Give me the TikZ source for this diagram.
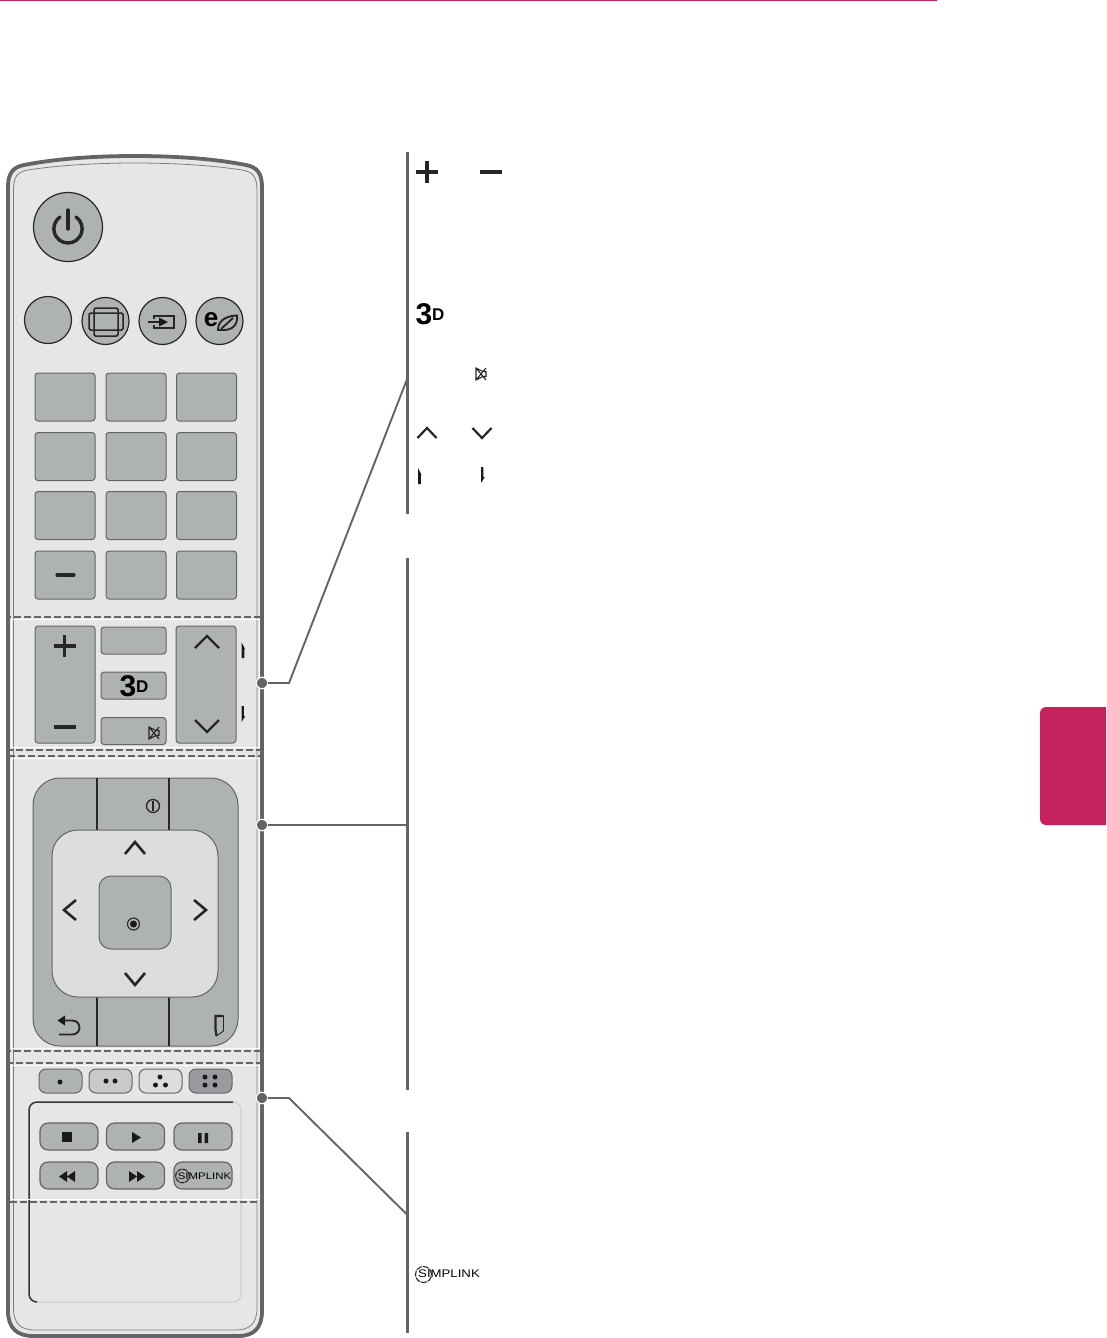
\documentclass[tikz,border=0pt]{standalone}
\usepackage{fontspec}
\setmainfont{Liberation Sans}
\definecolor{lgred}{HTML}{C5215C}
\definecolor{bodygray}{HTML}{E6E6E7}
\definecolor{edgegray}{HTML}{636466}
\definecolor{keygray}{HTML}{AFB2B3}
\definecolor{padgray}{HTML}{DCDDDE}
\definecolor{lightline}{HTML}{D1D3D4}
\definecolor{greenkey}{HTML}{C8C9CB}
\definecolor{bluekey}{HTML}{9A9B9E}

\begin{document}
\begin{tikzpicture} [x=1pt,y=-1pt]
\tikzstyle{every node}=[inner sep=0pt,outer sep=0pt]
\tikzstyle{keybase}=[draw=edgegray,fill=keygray,line width=1pt]
\tikzstyle{roundkey}=[keybase,circle,draw=black!85,line width=1.2pt,minimum size=47pt]
\tikzstyle{numkey}=[keybase,rectangle,rounded corners=3pt,minimum width=60pt,minimum height=48pt]
\tikzstyle{midkey}=[keybase,rectangle,rounded corners=3pt,minimum width=65pt,minimum height=27pt]
\tikzstyle{tallkey}=[keybase,rectangle,rounded corners=3pt,minimum width=60pt,minimum height=117pt]
\tikzstyle{colorkey}=[keybase,rectangle,rounded corners=7pt,minimum width=43pt,minimum height=24pt]
\tikzstyle{mediakey}=[keybase,line width=1.2pt,rectangle,rounded corners=8pt,minimum width=58pt,minimum height=27pt]
\tikzstyle{icon}=[black!85,line width=2.2pt]
\tikzstyle{crossbar}=[black!85,line width=3.1pt]
\tikzstyle{thinicon}=[black!85,line width=1.1pt]
\tikzstyle{leader}=[edgegray,line width=1.9pt]
\tikzstyle{pinpoint}=[circle,fill=edgegray,draw=white,line width=1.2pt,minimum size=11.5pt]

\useasboundingbox (0,0) rectangle (1106,1338);

\fill[lgred] (0,0) rectangle (937,1.4);
\fill[lgred] (1106,707) -- (1046,707) arc[start angle=90,end angle=180,radius=6pt]
    -- (1040,819) arc[start angle=180,end angle=270,radius=6pt] -- (1106,825) -- cycle;

\draw[edgegray,line width=3.8pt,fill=bodygray] (8,187) .. controls (8,172) and (14,167) .. (24,165)
    .. controls (60,158) and (100,156) .. (135,156) .. controls (170,156) and (210,158) .. (246,165)
    .. controls (256,167) and (262,172) .. (262,187) -- (262,1311)
    .. controls (262,1328) and (254,1336) .. (238,1336) -- (33,1336)
    .. controls (17,1336) and (8,1328) .. (8,1311) -- cycle;
\draw[lightline!60!black,line width=0.8pt] (13.5,190) .. controls (13.5,177) and (17,172) .. (28,170)
    .. controls (60,165) and (100,163) .. (135,163) .. controls (170,163) and (210,165) .. (242,170)
    .. controls (253,172) and (257,177) .. (257,190) -- (257,1308)
    .. controls (257,1323) and (250,1330) .. (236,1330) -- (35,1330)
    .. controls (20,1330) and (13.5,1323) .. (13.5,1308) -- cycle;

\node[roundkey,minimum size=69pt] (power) at (68,227) {};
\draw[icon,line width=3.4pt,line cap=round] (68,210) -- (68,229);
\draw[icon,line width=3.4pt,line cap=round] (60,217) .. controls (48,226) and (55,243) .. (68,243)
    .. controls (81,243) and (88,226) .. (76,217);

\node[roundkey] (round1) at (48,320) {};
\node[roundkey] (round2) at (105.5,321) {};
\node[roundkey] (round3) at (162.5,321) {};
\node[roundkey] (round4) at (219.5,321) {};
\draw[thinicon,line width=1.5pt,rounded corners=1.5pt] (89,313) rectangle (123,330) (94,308) rectangle (118,336);
\draw[thinicon,line width=1.4pt] (154,319) -- (154,316) -- (174,316) -- (174,328) -- (154,328) -- (154,325)
    (148,322) -- (160,322);
\fill[black!90] (159,317.5) -- (168,322) -- (159,326.5) -- cycle;
\node[font=\bfseries\fontsize{26}{26}\selectfont] (ecoe) at (211,320) {e};
\draw[icon,line width=1.9pt] (218,330) .. controls (218,322) and (224,316) .. (237,315.5)
    .. controls (238,324) and (233,330) .. (224,330) -- cycle (221,329) -- (233,318);

\foreach \r/\Y in {1/397,2/456.5,3/515.5,4/575}{
    \foreach \c/\X in {1/65,2/136,3/206.5}{
        \node[numkey] (num\r_\c) at (\X,\Y) {};
    }
}
\draw[crossbar,line cap=round] (57,575) -- (74,575);

\node[tallkey] (volkey) at (65,684.5) {};
\node[tallkey] (chkey) at (206,684.5) {};
\node[midkey] (midkey1) at (133.5,640.5) {};
\node[midkey] (midkey2) at (133.5,685.5) {};
\node[midkey] (midkey3) at (133.5,731) {};

\newcommand{\threed}{\bfseries\fontsize{30}{30}\selectfont 3\raisebox{4pt}{\fontsize{17}{17}\selectfont D}}
\node (threeda) at (134,686) {\threed};
\node (threedb) at (430,314) {\threed};

\foreach \Point in {(64.5,646),(427,172)}{
    \draw[crossbar] \Point +(-11,0) -- +(11,0) \Point +(0,-11) -- +(0,11);
}
\foreach \Point in {(64.5,727),(491,172)}{
    \draw[crossbar] \Point +(-11,0) -- +(11,0);
}
\foreach \Point/\Wd/\Ht/\Rot in {(207,642)/12/6/0,(207,726)/12/6/180,(427,433)/9.5/5/0,(482,433)/9.5/5/180}{
    \draw[icon,shift={\Point},rotate=\Rot] (-\Wd,\Ht) -- (0,-\Ht) -- (\Wd,\Ht);
}
\foreach \Point in {(241.5,642),(418,468)}{
    \fill[black!90,shift={\Point}] (0,0) -- (3.5,7) -- (2.8,7) -- (2.8,16) -- (0,16) -- cycle;
}
\foreach \Point in {(241.5,706),(481,467)}{
    \fill[black!90,shift={\Point}] (0,0) -- (2.4,0) -- (2.4,10) -- (3.8,10) -- (0,16) -- cycle;
}
\foreach \Point in {(154,733),(481,374)}{
    \draw[thinicon,shift={\Point}] (5,-2.5) -- (2,-2.5) -- (-5,-6) -- (-5,6) -- (2,2.5) -- (5,2.5) -- cycle
        (-5,-6) -- (5,6) (-5,6) -- (5,-6);
}

\node[keybase,rectangle,rounded corners=27pt,minimum width=205pt,minimum height=268pt] (navkey) at (135.5,912) {};
\coordinate (split1a) at (97,778); \coordinate (split1b) at (97,830);
\coordinate (split2a) at (169,778); \coordinate (split2b) at (169,830);
\coordinate (split3a) at (97,997); \coordinate (split3b) at (97,1046);
\coordinate (split4a) at (169,997); \coordinate (split4b) at (169,1046);
\draw[black!85,line width=1.1pt] (split1a) -- (split1b) (split2a) -- (split2b)
    (split3a) -- (split3b) (split4a) -- (split4b);
\node[keybase,fill=padgray,rectangle,rounded corners=26pt,minimum width=166pt,minimum height=167pt] (navpad) at (135,913.5) {};
\node[keybase,rectangle,rounded corners=12pt,minimum width=72pt,minimum height=73pt] (okkey) at (135,912.5) {};
\draw[icon,line width=2.6pt] (125,854) -- (135,842) -- (145,854) (125,973) -- (135,985) -- (145,973)
    (76,900) -- (64,910) -- (76,920) (194,900) -- (206,910) -- (194,920);
\draw[thinicon] (133.5,924) circle[radius=6pt];
\fill[black!90] (133.5,924) circle[radius=3.5pt];
\draw[thinicon,line width=1.3pt] (153,806) circle[radius=6.5pt];
\draw[icon,line width=2.6pt] (153,801) -- (153,811);
\fill[black!90] (57.5,1020.5) -- (65,1015.5) -- (65,1025.5) -- cycle;
\draw[icon,line width=1.9pt] (64,1020.5) -- (72,1020.5) .. controls (82,1020.5) and (82,1034.5) .. (72,1034.5) -- (59,1034.5);
\draw[icon] (223.5,1016) -- (215.5,1016) -- (215.5,1029) -- (216.5,1036);
\draw[thinicon,line width=0.9pt] (223.5,1016) -- (223.5,1031) -- (216.5,1036);

\foreach \Name/\X/\Shade in {colorred/60.5/keygray,colorgreen/110.5/greenkey,coloryellow/160.5/padgray,colorblue/210.5/bluekey}{
    \node[colorkey,fill=\Shade] (\Name) at (\X,1081) {};
}
\foreach \Point in {(60,1082),(106,1081),(115,1081),(160,1077),(155.5,1085),(165.5,1085),(205,1077),(215,1077),(205,1085),(215,1085)}{
    \fill[black!90] \Point circle[radius=2.5pt];
}

\draw[lightline,line width=1.5pt] (233,1102) arc[start angle=90,end angle=0,radius=8pt]
    -- (241,1294) arc[start angle=0,end angle=-90,radius=8pt] -- (37,1302);
\draw[black!80,line width=1.5pt] (37,1302) arc[start angle=270,end angle=180,radius=8pt]
    -- (29,1110) arc[start angle=180,end angle=90,radius=8pt] -- (233,1102);

\foreach \Name/\X/\Y in {stopkey/69/1136.5,playkey/135.5/1136.5,pausekey/203/1136.5,rewkey/69/1175.5,ffkey/135.5/1175.5,linkkey/203/1175.5}{
    \node[mediakey] (\Name) at (\X,\Y) {};
}
\fill[black!90] (62,1132) rectangle (72,1142);
\fill[black!90] (132,1132) -- (141,1137.5) -- (132,1143) -- cycle;
\fill[black!90] (198,1133) rectangle (201.5,1143) (204.5,1133) rectangle (208,1143);
\fill[black!90] (67,1171) -- (59,1176.5) -- (67,1182) -- cycle (75,1171) -- (67,1176.5) -- (75,1182) -- cycle;
\fill[black!90] (129,1171) -- (137,1176.5) -- (129,1182) -- cycle (137,1171) -- (145,1176.5) -- (137,1182) -- cycle;

\node[font=\fontsize{9.5}{10}\selectfont,xscale=1.2] (simplinka) at (204.5,1176) {SIMPLINK};
\draw[thinicon,dash pattern=on 5pt off 0.8pt] (182.5,1176) circle[radius=6.8pt];
\node[font=\fontsize{11}{12}\selectfont,xscale=1.2] (simplinkb) at (449,1274) {SIMPLINK};
\draw[thinicon,dash pattern=on 6pt off 1pt] (423.5,1274.5) circle[radius=8pt];

\foreach \Top/\Bot in {617/750,756/1051,1063/1202}{
    \draw[white,line width=1.5pt] (11.5,\Top+2.5) rectangle (259.5,\Bot-2.5);
    \draw[edgegray,line width=2.8pt,dash pattern=on 7pt off 3pt] (9,\Top) rectangle (262,\Bot);
}

\path (262,683) node[pinpoint] (dot1){};
\path (262,825) node[pinpoint] (dot2){};
\path (262,1098) node[pinpoint] (dot3){};

\path (289,683) coordinate (bend1);
\path (407.5,378) coordinate (end1);
\path (407.5,825) coordinate (end2);
\path (289,1098) coordinate (bend3);
\path (407.5,1215) coordinate (end3);

\path (407.5,152) coordinate (bar1a); \path (407.5,514) coordinate (bar1b);
\path (407.5,558) coordinate (bar2a); \path (407.5,1090) coordinate (bar2b);
\path (407.5,1132) coordinate (bar3a); \path (407.5,1333) coordinate (bar3b);

\draw[leader] (dot1) -- (bend1) -- (end1)
        (dot2) -- (end2)
        (dot3) -- (bend3) -- (end3);
\draw[edgegray,line width=2.8pt] (bar1a) -- (bar1b)
        (bar2a) -- (bar2b)
        (bar3a) -- (bar3b);
\end{tikzpicture}
\end{document}
